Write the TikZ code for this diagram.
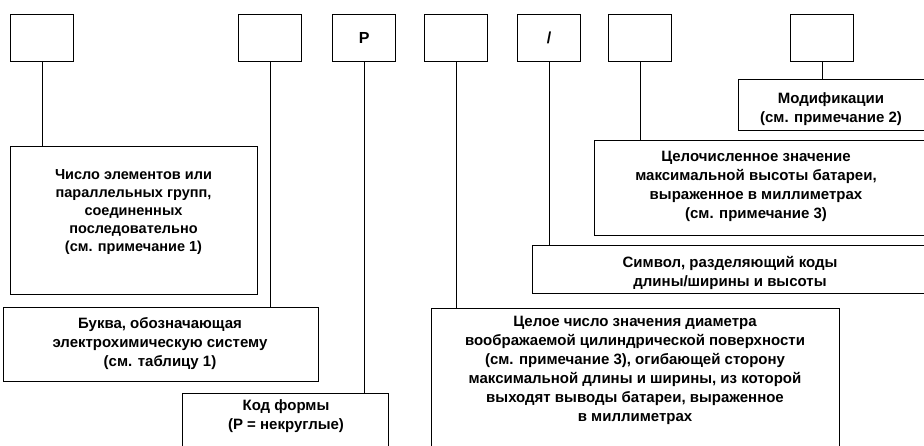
\documentclass[tikz,border=0pt]{standalone}
\usepackage{fontspec}
\setmainfont{Liberation Sans}
\begin{document}
\begin{tikzpicture}[x=1pt,y=-1pt,line width=1.2pt,
  box/.style={draw,rectangle,inner sep=0pt,anchor=north west},
  top/.style={box,minimum width=63pt,minimum height=47pt,font=\bfseries\fontsize{16}{16}\selectfont},
  txt/.style={align=center,inner sep=0pt,font=\bfseries\fontsize{15}{19}\selectfont},
  txts/.style={align=center,inner sep=0pt,font=\bfseries\fontsize{14.5}{18.2}\selectfont},
  link/.style={draw,line width=1.2pt}]
\useasboundingbox (0,0) rectangle (924,445);
\clip (0,0) rectangle (924,445);
% top code boxes
\node[top] (b1) at (10,14) {};
\node[top] (b2) at (238,14) {};
\node[top] (b3) at (332,14) {P};
\node[top] (b4) at (424,14) {};
\node[top] (b5) at (517,14) {/};
\node[top] (b6) at (608,14) {};
\node[top] (b7) at (790,14) {};
% description boxes
\node[box,minimum width=247pt,minimum height=148pt] (dL) at (10,146) {};
\node[box,minimum width=315pt,minimum height=74pt] (dB) at (3,307) {};
\node[box,minimum width=206pt,minimum height=80pt] (dK) at (182,393) {};
\node[box,minimum width=408pt,minimum height=160pt] (dD) at (431,308) {};
\node[box,minimum width=400pt,minimum height=48pt] (dS) at (532,245) {};
\node[box,minimum width=340pt,minimum height=95pt] (dH) at (594,140) {};
\node[box,minimum width=200pt,minimum height=51pt] (dM) at (738,79) {};
% texts
\node[txts] (tL) at (133.5,212) {Число элементов или\\параллельных групп,\\соединенных\\последовательно\\(см. примечание 1)};
\node[txt] (tB) at (160,344) {Буква, обозначающая\\электрохимическую систему\\(см. таблицу 1)};
\node[txt] (tK) at (286,416) {Код формы\\(P = некруглые)};
\node[txt] (tD) at (635,370) {Целое число значения диаметра\\воображаемой цилиндрической поверхности\\(см. примечание 3), огибающей сторону\\максимальной длины и ширины, из которой\\выходят выводы батареи, выраженное\\в миллиметрах};
\node[txt] (tS) at (730,273) {Символ, разделяющий коды\\длины/ширины и высоты};
\node[txt] (tH) at (756,186) {Целочисленное значение\\максимальной высоты батареи,\\выраженное в миллиметрах\\(см. примечание 3)};
\node[txt] (tM) at (831,109) {Модификации\\(см. примечание 2)};
% connectors
\draw[link] (b1.south) -- (b1.south |- dL.north);
\draw[link] (b2.south) -- (b2.south |- dB.north);
\draw[link] (b3.south) -- (b3.south |- dK.north);
\draw[link] (b4.south) -- (b4.south |- dD.north);
\draw[link] (b5.south) -- (b5.south |- dS.north);
\draw[link] (b6.south) -- (b6.south |- dH.north);
\draw[link] (b7.south) -- (b7.south |- dM.north);
\end{tikzpicture}
\end{document}
